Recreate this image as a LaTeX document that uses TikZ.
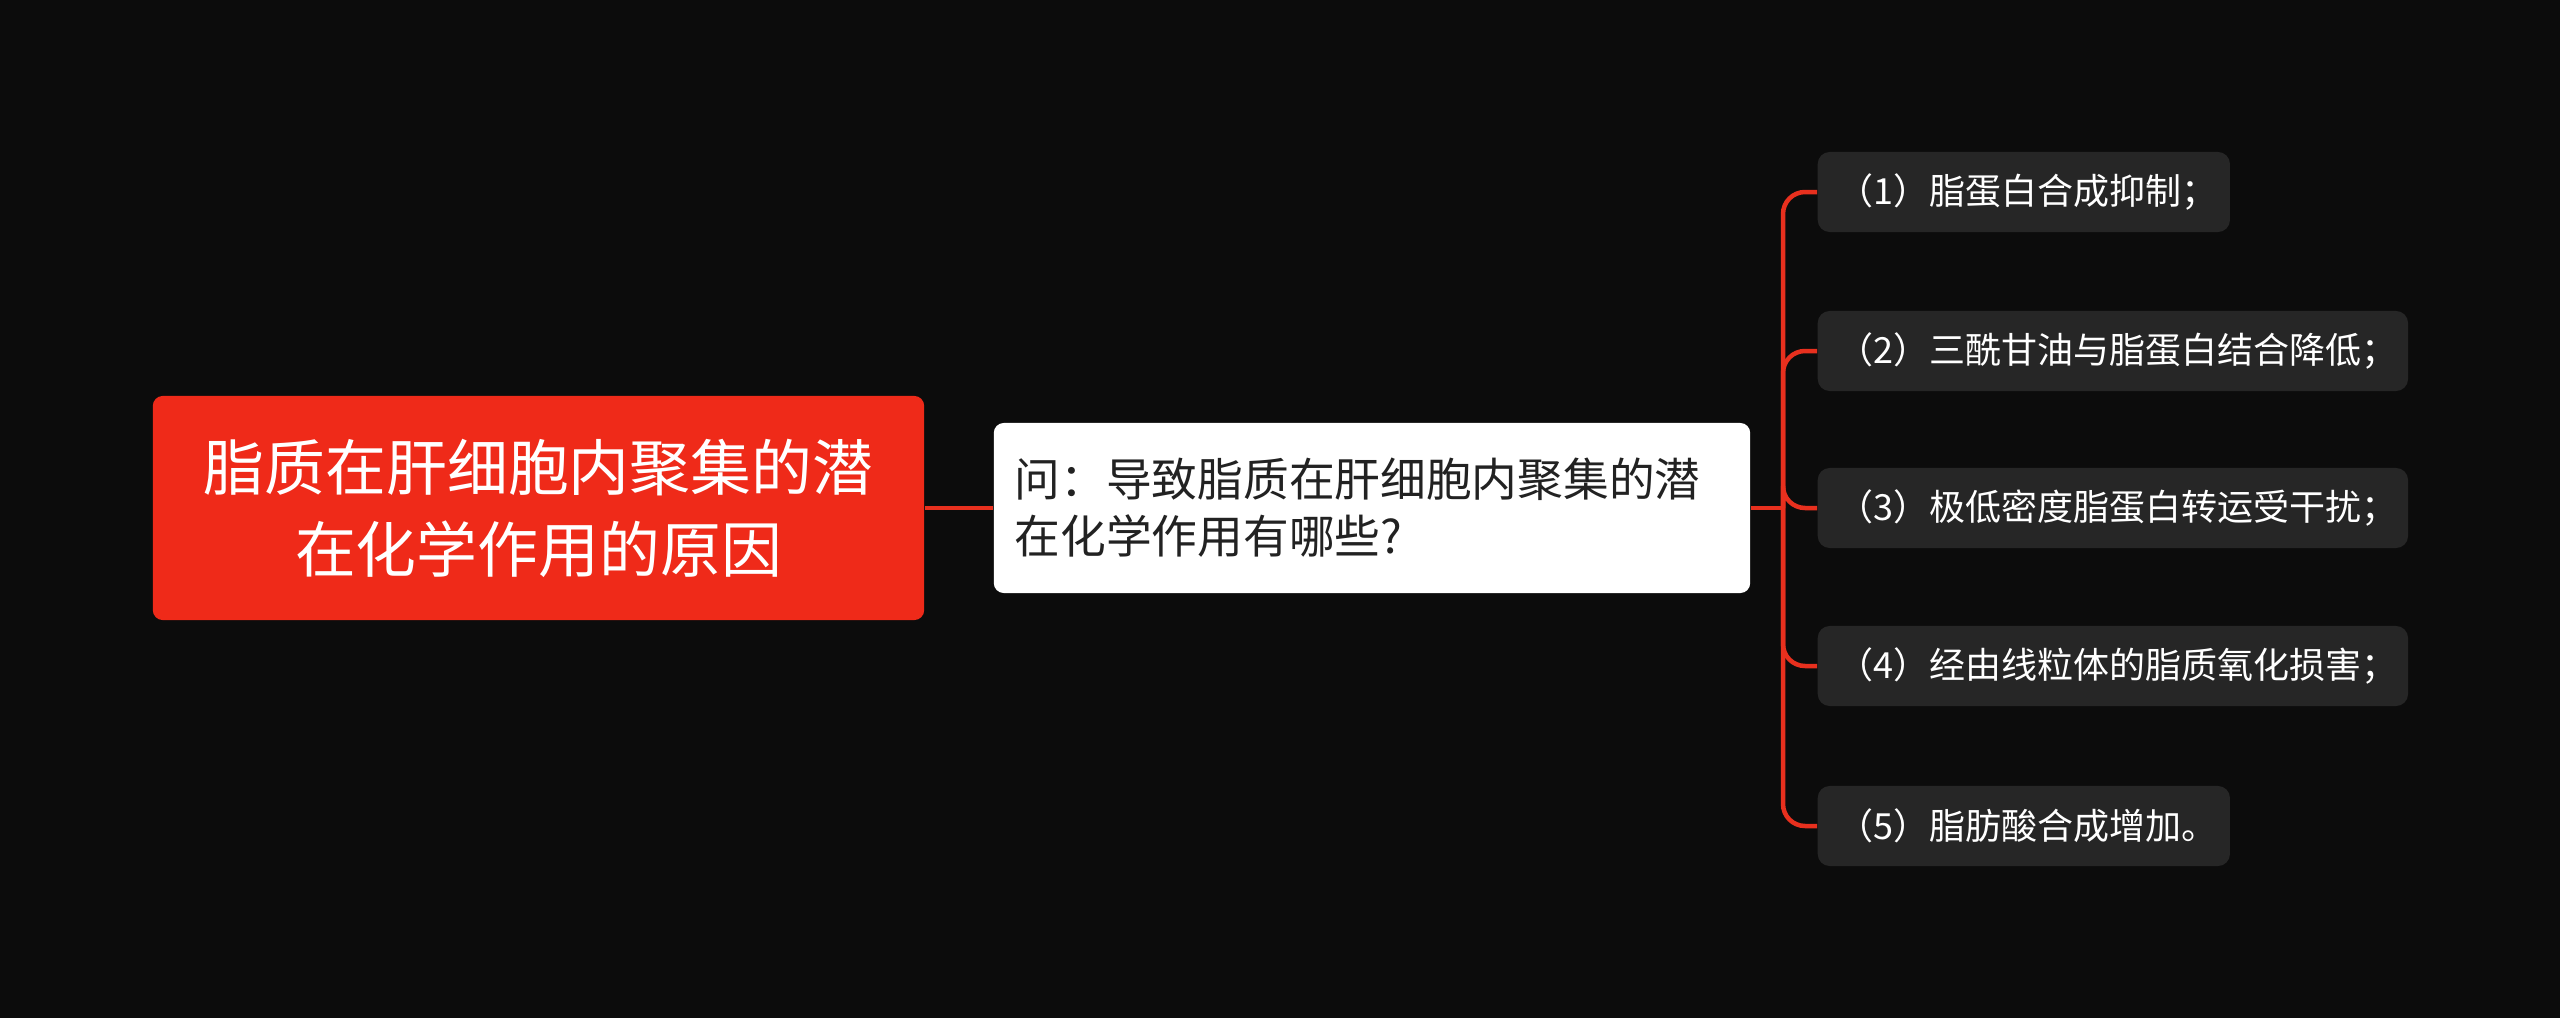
\documentclass[tikz,border=0pt]{standalone}
\usepackage{fontspec}
\setmainfont{Noto Sans CJK SC}
\usetikzlibrary{positioning}
\definecolor{bgdark}{HTML}{0C0C0C}
\definecolor{rootred}{HTML}{EF2A19}
\definecolor{leafgray}{HTML}{262626}
\definecolor{linkred}{HTML}{E8301E}
\definecolor{qtext}{HTML}{222222}
\tikzset{
  rootbox/.style={
    fill=rootred, text=white, rounded corners=0.1cm,
    minimum width=7.71cm, minimum height=2.24cm,
    align=center, font=\fontsize{17.3pt}{23.3pt}\selectfont
  },
  questionbox/.style={
    fill=white, text=qtext, rounded corners=0.1cm,
    text width=7.14cm, inner xsep=0.21cm, minimum height=1.7cm,
    align=left, font=\fontsize{13pt}{16.2pt}\selectfont
  },
  leafbox/.style={
    fill=leafgray, text=white, rounded corners=0.12cm,
    text width=#1, inner xsep=0.2cm, minimum height=0.8cm,
    align=left, anchor=west, font=\fontsize{10.24pt}{12pt}\selectfont
  },
  leafbox/.default={3.72cm},
  link/.style={draw=linkred, line width=0.045cm, rounded corners=0.22cm}
}
\begin{document}
\begin{tikzpicture}[x=0.01cm, y=-0.01cm]
  \fill[bgdark] (0,0) rectangle (2560,1018);
  \node[rootbox] (root) at (538.5,508) {脂质在肝细胞内聚集的潜\\在化学作用的原因};
  \node[questionbox] (quest) at (1372,508) {问：导致脂质在肝细胞内聚集的潜\\在化学作用有哪些?};
  \coordinate (trunk) at (1783,508);
  \node[leafbox] (leaf1) at (1817,192) {（1）脂蛋白合成抑制；};
  \node[leafbox=5.5cm] (leaf2) at (1817,351) {（2）三酰甘油与脂蛋白结合降低；};
  \node[leafbox=5.5cm] (leaf3) at (1817,508) {（3）极低密度脂蛋白转运受干扰；};
  \node[leafbox=5.5cm] (leaf4) at (1817,666) {（4）经由线粒体的脂质氧化损害；};
  \node[leafbox] (leaf5) at (1817,826) {（5）脂肪酸合成增加。};
  \draw[link] (root.east) -- (quest.west);
  \draw[link] (quest.east) -- (trunk);
  \foreach \n in {1,...,5}
    \draw[link] (trunk) |- (leaf\n.west);
\end{tikzpicture}
\end{document}
